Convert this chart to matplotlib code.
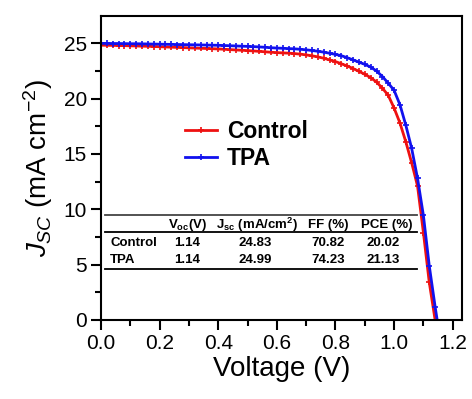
import numpy as np
import matplotlib
matplotlib.use('Agg')
import matplotlib.pyplot as plt
from matplotlib.ticker import MultipleLocator

plt.rcParams['font.family'] = 'Liberation Sans'
plt.rcParams['mathtext.fontset'] = 'custom'
plt.rcParams['mathtext.rm'] = 'Liberation Sans'
plt.rcParams['mathtext.it'] = 'Liberation Sans:italic'
plt.rcParams['mathtext.bf'] = 'Liberation Sans:bold'

# J-V sweep, 0.02 V steps
v_control = [0.00, 0.02, 0.04, 0.06, 0.08, 0.10, 0.12, 0.14, 0.16, 0.18,
             0.20, 0.22, 0.24, 0.26, 0.28, 0.30, 0.32, 0.34, 0.36, 0.38,
             0.40, 0.42, 0.44, 0.46, 0.48, 0.50, 0.52, 0.54, 0.56, 0.58,
             0.60, 0.62, 0.64, 0.66, 0.68, 0.70, 0.72, 0.74, 0.76, 0.78,
             0.80, 0.82, 0.84, 0.86, 0.88, 0.90, 0.92, 0.94, 0.96, 0.98,
             1.00, 1.02, 1.04, 1.06, 1.08, 1.10, 1.12, 1.14]
j_control = [24.83, 24.82, 24.81, 24.80, 24.79, 24.77, 24.76, 24.74, 24.73, 24.71,
             24.69, 24.67, 24.65, 24.63, 24.61, 24.59, 24.57, 24.55, 24.53, 24.51,
             24.49, 24.46, 24.43, 24.40, 24.37, 24.34, 24.31, 24.27, 24.23, 24.19,
             24.16, 24.13, 24.11, 24.07, 24.02, 23.95, 23.87, 23.77, 23.65, 23.50,
             23.35, 23.15, 22.95, 22.72, 22.47, 22.20, 21.90, 21.50, 20.95, 20.30,
             19.15, 17.80, 16.10, 14.20, 12.10, 7.90, 3.40, 0.00]

v_tpa = [0.00, 0.02, 0.04, 0.06, 0.08, 0.10, 0.12, 0.14, 0.16, 0.18,
         0.20, 0.22, 0.24, 0.26, 0.28, 0.30, 0.32, 0.34, 0.36, 0.38,
         0.40, 0.42, 0.44, 0.46, 0.48, 0.50, 0.52, 0.54, 0.56, 0.58,
         0.60, 0.62, 0.64, 0.66, 0.68, 0.70, 0.72, 0.74, 0.76, 0.78,
         0.80, 0.82, 0.84, 0.86, 0.88, 0.90, 0.92, 0.94, 0.96, 0.98,
         1.00, 1.02, 1.04, 1.06, 1.08, 1.10, 1.12, 1.14, 1.147]
j_tpa = [24.99, 24.99, 24.98, 24.98, 24.97, 24.96, 24.96, 24.95, 24.94, 24.93,
         24.92, 24.91, 24.90, 24.89, 24.88, 24.87, 24.86, 24.85, 24.84, 24.83,
         24.82, 24.80, 24.78, 24.76, 24.74, 24.72, 24.70, 24.67, 24.64, 24.60,
         24.57, 24.55, 24.52, 24.50, 24.46, 24.41, 24.35, 24.28, 24.20, 24.10,
         24.00, 23.88, 23.70, 23.50, 23.30, 23.10, 22.85, 22.50, 22.00, 21.40,
         20.75, 19.45, 17.60, 15.50, 12.80, 9.45, 4.90, 1.20, 0.00]

# photovoltaic parameters
devices = ['Control', 'TPA']
voc = ['1.14', '1.14']
jsc = ['24.83', '24.99']
ff = ['70.82', '74.23']
pce = ['20.02', '21.13']

fig = plt.figure(figsize=(4.72, 3.99), dpi=100)
ax = fig.add_axes([0.214, 0.198, 0.765, 0.762])

ax.plot(v_control, j_control, color='#ee1111', lw=2, marker='+', ms=4, mew=1.2,
        label='Control')
ax.plot(v_tpa, j_tpa, color='#1111ee', lw=2, marker='+', ms=4, mew=1.2,
        label='TPA')

ax.set_xlim(0, 1.232)
ax.set_ylim(0, 27.47)
ax.xaxis.set_major_locator(MultipleLocator(0.2))
ax.xaxis.set_minor_locator(MultipleLocator(0.1))
ax.yaxis.set_major_locator(MultipleLocator(5))
ax.yaxis.set_minor_locator(MultipleLocator(2.5))
ax.xaxis.set_major_formatter(plt.FormatStrFormatter('%.1f'))
ax.tick_params(which='major', direction='out', length=7, width=1.5, labelsize=15, pad=3)
ax.tick_params(which='minor', direction='out', length=4, width=1.5)
for s in ax.spines.values():
    s.set_linewidth(1.5)

ax.set_xlabel('Voltage (V)', fontsize=20, labelpad=2)
ax.set_ylabel('$J_{SC}$ (mA cm$^{-2}$)', fontsize=20, labelpad=6)

leg = ax.legend(loc='upper left', bbox_to_anchor=(0.2, 0.696), frameon=False,
                prop={'size': 16.5, 'weight': 'bold'}, handlelength=1.4,
                handletextpad=0.45, labelspacing=0.2, borderpad=0, numpoints=1)

# parameter table
x0, x1 = 0.01, 0.875
ax.plot([x0, x1], [9.49, 9.49], color='#444444', lw=1.3, transform=ax.get_yaxis_transform())
ax.plot([x0, x1], [7.95, 7.95], color='black', lw=1.3, transform=ax.get_yaxis_transform())
ax.plot([x0, x1], [4.61, 4.61], color='black', lw=1.3, transform=ax.get_yaxis_transform())

tkw = dict(fontsize=9.5, fontweight='bold', va='center')
headers = [(0.294, 'V$_\\mathbf{oc}$(V)'), (0.532, 'J$_\\mathbf{sc}$ (mA/cm$^\\mathbf{2}$)'),
           (0.775, 'FF (%)'), (0.976, 'PCE (%)')]
for xc, h in headers:
    ax.text(xc, 8.6, h, ha='center', **tkw)
for row, yr in zip(range(2), [6.96, 5.42]):
    ax.text(0.031, yr, devices[row], ha='left', **tkw)
    ax.text(0.294, yr, voc[row], ha='center', **tkw)
    ax.text(0.526, yr, jsc[row], ha='center', **tkw)
    ax.text(0.775, yr, ff[row], ha='center', **tkw)
    ax.text(0.962, yr, pce[row], ha='center', **tkw)

fig.savefig('out.png', dpi=100)
